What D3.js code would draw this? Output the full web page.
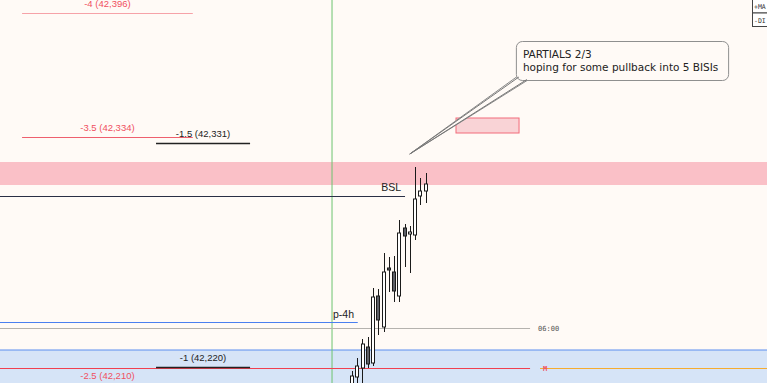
<!DOCTYPE html>
<html><head><meta charset="utf-8">
<script src="https://cdn.jsdelivr.net/npm/d3@7/dist/d3.min.js"></script>
<style>html,body{margin:0;padding:0;background:#fffaf6;overflow:hidden}svg{display:block}</style>
</head><body>
<svg id="c" width="767" height="383"></svg>
<script>
// ---- data (bar index on x, price on y) ----
const opens  = [42207.5, 42214, 42218.5, 42229, 42221, 42254.5, 42239, 42268.5, 42266.5, 42254.5, 42288.5, 42285.5, 42285, 42304.5, 42307];
const highs  = [42217, 42223.5, 42233, 42234, 42258.5, 42258, 42276, 42274, 42274.5, 42292.5, 42290.5, 42289.5, 42319, 42313.5, 42316];
const lows   = [42205, 42210, 42209.5, 42218.5, 42219.5, 42235, 42236.5, 42256.5, 42251.5, 42251.5, 42269, 42266, 42282.5, 42300, 42301];
const closes = [42214.5, 42219.5, 42230.5, 42220.5, 42254, 42242.5, 42266.5, 42267.5, 42257, 42286, 42284.5, 42286.5, 42303, 42307, 42310.5];

const fibLevels = [-4, -3.5, -1.5, -1, -2.5];
const fibPrices = [42396, 42334, 42331, 42219, 42210];
const fibLabels = ["-4 (42,396)", "-3.5 (42,334)", "-1.5 (42,331)", "-1 (42,220)", "-2.5 (42,210)"];
const fibFrom   = [-62.8, -62.8, -37.3, -37.3, -62.8];
const fibTo     = [-30.3, -30.3, -19.4, -19.4, -30.3];

const pinkZone = [42321.5, 42310];
const blueZoneTop = 42227.5;
const bslPrice = 42304.5, bslTo = 10.1;
const p4hPrice = 42241.5, p4hTo = 1.1;
const sixPrice = 42238.5, sixTo = 33.9;
const midPrice = 42218.5, midTo = 33.9;
const vLineIdx = -3.8;
const boxX = [19.8, 31.8], boxP = [42343.5, 42336];
const noteLines = ["PARTIALS 2/3", "hoping for some pullback into 5 BISIs"];
const noteX = [31.2, 71.6], noteP = [42382, 42362.5], noteTip = [11.0, 42325.5];
const tableRows = ["+MA", "-DI"];

// ---- scales ----
const W = 767, H = 383;
const x = d3.scaleLinear().domain([-67, 79]).range([0, W]);
const y = d3.scaleLinear().domain([42211, 42402.5]).range([H, 0]);
const svg = d3.select("#c");
const sans = "'Liberation Sans', Arial, sans-serif";
const note = "'DejaVu Sans', Verdana, sans-serif";
const mono = "'DejaVu Sans Mono', monospace";

svg.append("rect").attr("width", W).attr("height", H).attr("fill", "#fffaf6");

// zones
svg.append("rect").attr("x", 0).attr("width", W)
  .attr("y", y(pinkZone[0])).attr("height", y(pinkZone[1]) - y(pinkZone[0]))
  .attr("fill", "#fac0c7");
svg.append("rect").attr("x", 0).attr("width", W)
  .attr("y", y(blueZoneTop)).attr("height", H - y(blueZoneTop))
  .attr("fill", "#d6e4f7");
svg.append("line").attr("x1", 0).attr("x2", W).attr("y1", y(blueZoneTop)).attr("y2", y(blueZoneTop))
  .attr("stroke", "#5b8ef0").attr("stroke-width", 1);

// vertical line
svg.append("line").attr("x1", x(vLineIdx)).attr("x2", x(vLineIdx)).attr("y1", 0).attr("y2", H)
  .attr("stroke", "#6cc36f").attr("stroke-width", 1);

// horizontal lines
function hline(p, from, to, color) {
  svg.append("line").attr("x1", from).attr("x2", to).attr("y1", Math.round(y(p)) + 0.5).attr("y2", Math.round(y(p)) + 0.5)
    .attr("stroke", color).attr("stroke-width", 1);
}
hline(bslPrice, 0, x(bslTo), "#2a2f45");
hline(p4hPrice, 0, x(p4hTo), "#4a7ff0");
hline(sixPrice, 0, x(sixTo), "#b5b2ae");
hline(midPrice, 0, x(midTo), "#f0404f");
hline(midPrice, x(midTo) + 10, W, "#f5ac30");

// fib levels
fibLevels.forEach((lv, i) => {
  const red = lv <= -2;
  const col = red ? (lv === -4 ? "#f6a2a8" : "#ee5f6e") : "#222";
  svg.append("line").attr("x1", x(fibFrom[i])).attr("x2", x(fibTo[i]))
    .attr("y1", Math.round(y(fibPrices[i])) + 0.5).attr("y2", Math.round(y(fibPrices[i])) + 0.5)
    .attr("stroke", col).attr("stroke-width", red ? 1 : 1.3);
  svg.append("text").attr("x", (x(fibFrom[i]) + x(fibTo[i])) / 2).attr("y", y(fibPrices[i]) - 6)
    .attr("text-anchor", "middle").attr("font-family", sans).attr("font-size", 9.5)
    .attr("fill", red ? "#f0505f" : "#222").text(fibLabels[i]);
});

// candles
const step = x(1) - x(0);
const bw = step * 0.74;
opens.forEach((o, i) => {
  const c = closes[i], cx = x(i);
  const bull = c >= o;
  svg.append("line").attr("x1", Math.round(cx) + 0.5).attr("x2", Math.round(cx) + 0.5)
    .attr("y1", y(highs[i])).attr("y2", y(lows[i])).attr("stroke", "#1a1a1a").attr("stroke-width", 1);
  const top = y(Math.max(o, c)), bot = y(Math.min(o, c));
  svg.append("rect").attr("x", Math.round(cx - bw / 2) + 0.5).attr("width", Math.round(bw) - 1)
    .attr("y", top).attr("height", Math.max(1, bot - top))
    .attr("fill", bull ? "#ffffff" : "#5d5f66").attr("stroke", "#1a1a1a").attr("stroke-width", 1);
});

// labels
svg.append("text").attr("x", x(bslTo) - 4).attr("y", y(bslPrice) - 5).attr("text-anchor", "end")
  .attr("font-family", sans).attr("font-size", 10.5).attr("fill", "#222").text("BSL");
svg.append("text").attr("x", x(vLineIdx) + 1).attr("y", y(p4hPrice) - 4)
  .attr("font-family", sans).attr("font-size", 10.5).attr("fill", "#222").text("p-4h");
svg.append("text").attr("x", x(sixTo) + 8).attr("y", y(sixPrice) + 2.5)
  .attr("font-family", mono).attr("font-size", 7).attr("fill", "#555").text("06:00");
svg.append("text").attr("x", x(midTo) + 13).attr("y", y(midPrice) + 2.5)
  .attr("font-family", mono).attr("font-size", 7).attr("font-weight", "bold").attr("fill", "#f0505f").text("M");

// small pink box
svg.append("rect").attr("x", x(boxX[0])).attr("width", x(boxX[1]) - x(boxX[0]))
  .attr("y", y(boxP[0])).attr("height", y(boxP[1]) - y(boxP[0]))
  .attr("fill", "#f9d3d6").attr("stroke", "#f26b7a").attr("stroke-width", 1);

// callout
const bx0 = x(noteX[0]), bx1 = x(noteX[1]), by0 = y(noteP[0]), by1 = y(noteP[1]);
const tx = x(noteTip[0]), ty = y(noteTip[1]);
svg.append("path")
  .attr("d", `M${bx0 + 2},${by1 - 4} L${tx},${ty} L${bx0 + 12},${by1}`)
  .attr("fill", "#fffaf6").attr("stroke", "#888").attr("stroke-width", 1);
svg.append("rect").attr("x", bx0 + 0.5).attr("y", by0 + 0.5).attr("width", bx1 - bx0).attr("height", by1 - by0)
  .attr("rx", 6).attr("fill", "#fffaf6").attr("stroke", "#8f8f8f").attr("stroke-width", 1);
svg.append("path")
  .attr("d", `M${bx0 + 3},${by1 - 3} L${tx},${ty} L${bx0 + 11},${by1 - 0.5}`)
  .attr("fill", "none").attr("stroke", "#777").attr("stroke-width", 1);
noteLines.forEach((t, i) => {
  svg.append("text").attr("x", bx0 + 7).attr("y", by0 + 17 + i * 12.5)
    .attr("font-family", note).attr("font-size", 10.5).attr("fill", "#222").text(t);
});

// top right table
const tx0 = 752;
tableRows.forEach((r, i) => {
  svg.append("rect").attr("x", tx0 + 0.5).attr("y", -0.5 + i * 13.5).attr("width", 20).attr("height", 13.5)
    .attr("fill", "#ffffff").attr("stroke", "#444").attr("stroke-width", 1);
  svg.append("text").attr("x", tx0 + 2).attr("y", 9 + i * 13.5)
    .attr("font-family", mono).attr("font-size", 6.5).attr("fill", "#333").text(r);
});
</script>
</body></html>
